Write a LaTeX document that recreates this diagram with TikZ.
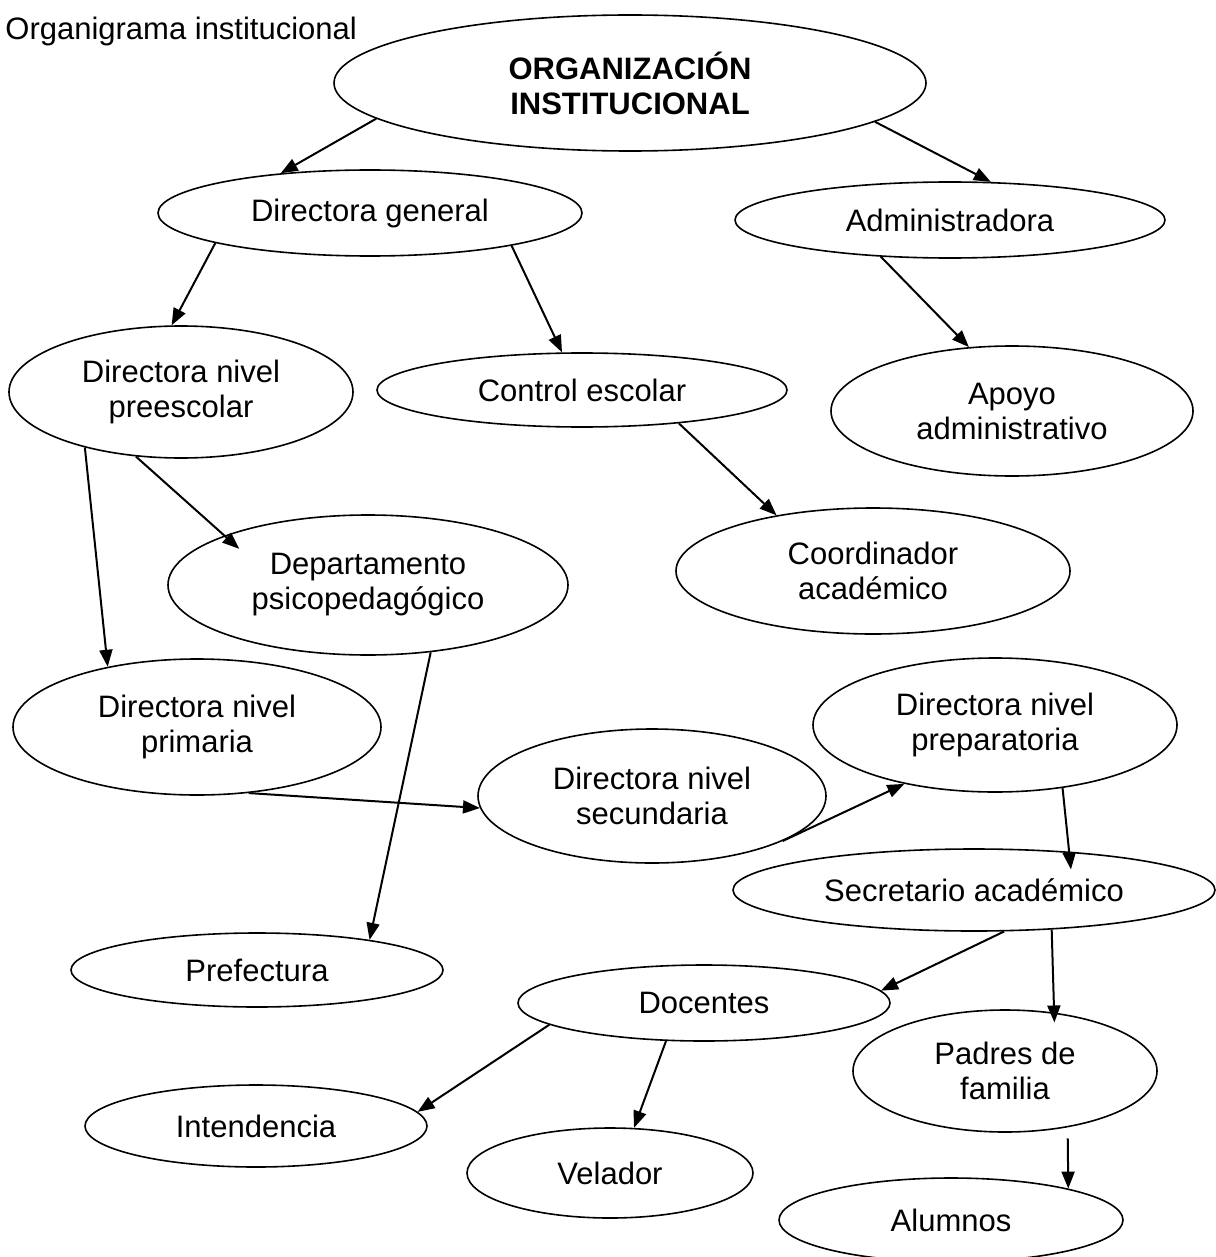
\documentclass[tikz,border=0pt]{standalone}
\usepackage{fontspec}
\setmainfont{Liberation Sans}
\usetikzlibrary{arrows.meta,shapes.geometric}
\newcommand{\orgfont}{\fontsize{15.5}{17.5}\selectfont}
\tikzset{
  orgnode/.style={draw, ellipse, line width=0.8pt, inner sep=0pt,
                  align=center, font=\orgfont},
  titlenode/.style={anchor=base west, inner sep=0pt, font=\orgfont},
  orgarrow/.style={-{Triangle[length=8.5pt,width=6.5pt]}, line width=1pt},
}
\begin{document}
\begin{tikzpicture}[x=0.5pt, y=-0.5pt]
\useasboundingbox (0,0) rectangle (1215,1257);

%% Title
\node[titlenode] (title) at (5,40) {Organigrama institucional};

%% Top of the chart
\node[orgnode, font=\orgfont\bfseries, minimum width=296pt, minimum height=68pt]
  (org) at (630,83) {ORGANIZACIÓN\\INSTITUCIONAL};

%% Ellipses: name / x / y / half axes (px) / label
\foreach \nm/\cx/\cy/\rx/\ry/\lbl in {
  dg/370/213/212/43/{Directora general},
  adm/950/220/215/38/{Administradora},
  pre/181/392/172/66/{Directora nivel\\preescolar},
  ctl/582/390/205/37/{Control escolar},
  apo/1012/411/181/65/{Apoyo\\administrativo},
  dep/368/585/200/70/{Departamento\\psicopedagógico},
  coo/873/571/197/63/{Coordinador\\académico},
  pri/197/727/184/68/{Directora nivel\\primaria},
  sec/652/796/174/67/{Directora nivel\\secundaria},
  prp/995/725/182/67/{Directora nivel\\preparatoria},
  sac/974/890/241/41/{Secretario académico},
  prf/257/970/186/37/{Prefectura},
  doc/704/1003/186/38/{Docentes},
  pad/1005/1071/152/61/{Padres de\\familia},
  int/256/1126/171/41/{Intendencia},
  vel/610/1173/143/45/{Velador},
  alu/951/1220/172/42/{Alumnos}%
} {
  \node[orgnode, minimum width=\rx pt, minimum height=\ry pt] (\nm) at (\cx,\cy) {\lbl};
}

%% Arrows between the ellipses (border angles)
\foreach \src/\dst in {org.-172/dg.156, org.-9/adm.43, dg.-169/pre.98,
  dg.-13/ctl.118, adm.-152/apo.124, pre.-150/pri.146, ctl.-19/coo.150,
  dep.-47/prf.15, pri.-52/sec.-176, sec.-19/prp.-147, sac.-54/doc.4,
  doc.-172/int.5, doc.-135/vel.62} {
  \draw[orgarrow] (\src) -- (\dst);
}

%% Arrows whose tips run into the ellipse, or start off it
\draw[orgarrow, shorten >=-10pt] (pre.-125) -- (dep.161);
\draw[orgarrow, shorten >=-9pt] (prp.-43) -- (sac.22);
\draw[orgarrow, shorten >=-5pt] (sac.-27) -- (pad.50);
\draw[orgarrow, shorten <=5.5pt] (pad.-42) -- (alu.15);
\end{tikzpicture}
\end{document}
